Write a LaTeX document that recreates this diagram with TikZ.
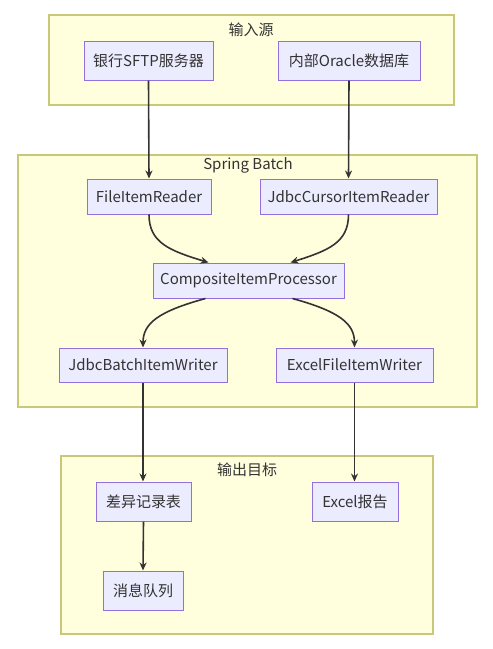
\documentclass[tikz,border=0pt]{standalone}
\usepackage{fontspec}
\setmainfont{Noto Sans CJK SC}
\usetikzlibrary{arrows.meta,calc}
\definecolor{grpfill}{HTML}{FFFFDE}
\definecolor{grpdraw}{HTML}{C8C878}
\definecolor{ndfill}{HTML}{ECECFF}
\definecolor{nddraw}{HTML}{9370DB}
\definecolor{txt}{HTML}{333333}
\tikzset{
  grp/.style={draw=grpdraw,fill=grpfill,line width=1.2pt},
  grptitle/.style={text=txt,font=\fontsize{15}{17}\selectfont,inner sep=0pt},
  box/.style={draw=nddraw,fill=ndfill,line width=1pt,text=txt,
    font=\fontsize{15}{17}\selectfont,inner sep=0pt,minimum height=35pt},
  cbox/.style={box,minimum height=39pt},
  arr/.style={draw=txt,line width=1.6pt,-{Stealth[length=8pt,width=7pt]}}
}
\begin{document}
\begin{tikzpicture}[x=1pt,y=-1pt]
\useasboundingbox (0,0) rectangle (493,649);
% groups
\draw[grp] (49,15) rectangle (454,105);
\node[grptitle] (t1) at (251,30) {输入源};
\draw[grp] (18,155) rectangle (477,407);
\node[grptitle] (t2) at (248,165) {Spring Batch};
\draw[grp] (61,456) rectangle (433,634);
\node[grptitle] (t3) at (247,470) {输出目标};
% nodes
\node[cbox,minimum width=129pt] (sftp) at (148.5,60.5) {银行SFTP服务器};
\node[cbox,minimum width=142pt] (ora) at (349,60.5) {内部Oracle数据库};
\node[box,minimum width=124pt] (fir) at (149,196.5) {FileItemReader};
\node[box,minimum width=177pt] (jcir) at (348.5,196.5) {JdbcCursorItemReader};
\node[box,minimum width=191pt] (cip) at (248.5,280.5) {CompositeItemProcessor};
\node[box,minimum width=168pt,minimum height=34pt] (jbiw) at (143,365) {JdbcBatchItemWriter};
\node[box,minimum width=157pt,minimum height=34pt] (efiw) at (354.5,365) {ExcelFileItemWriter};
\node[cbox,minimum width=95pt] (diff) at (143.5,501.5) {差异记录表};
\node[cbox,minimum width=86pt] (xls) at (355,501.5) {Excel报告};
\node[cbox,minimum width=80pt] (mq) at (143,590.5) {消息队列};
% connectors
\draw[arr] (sftp.south) -- (fir.north);
\draw[arr] (ora.south) -- (jcir.north);
\draw[arr] (fir.south) .. controls ($(fir.south)+(0,28)$) and ($(fir.south)+(20,36)$) .. ([xshift=-40pt]cip.north);
\draw[arr] (jcir.south) .. controls ($(jcir.south)+(0,28)$) and ($(jcir.south)+(-20,36)$) .. ([xshift=42pt]cip.north);
\draw[arr] ([xshift=-43pt]cip.south) .. controls ($(jbiw.north)+(15,-36)$) and ($(jbiw.north)+(0,-24)$) .. (jbiw.north);
\draw[arr] ([xshift=44pt]cip.south) .. controls ($(efiw.north)+(-15,-36)$) and ($(efiw.north)+(0,-24)$) .. (efiw.north);
\draw[arr] (jbiw.south) -- (jbiw.south |- diff.north);
\draw[arr] (efiw.south) -- (efiw.south |- xls.north);
\draw[arr] (diff.south) -- (mq.north);
\end{tikzpicture}
\end{document}
